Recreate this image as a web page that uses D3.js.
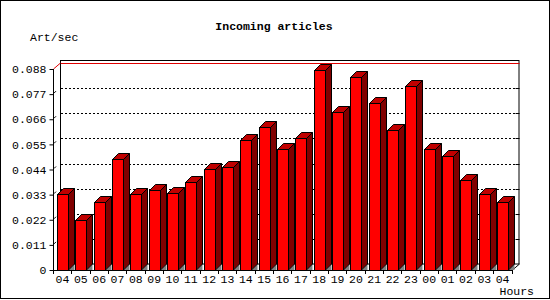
<!DOCTYPE html>
<html>
<head>
<meta charset="utf-8">
<script src="https://cdn.jsdelivr.net/npm/d3@7"></script>
<style>
  body { margin: 0; background: #fff; }
  text { font-family: "Liberation Mono", "DejaVu Sans Mono", monospace; font-size: 11.5px; fill: #000; }
</style>
</head>
<body>
<div class="chart"></div>
<script>
// hours on the x axis (a full day plus one)
var hours = ["04","05","06","07","08","09","10","11","12","13","14","15","16",
             "17","18","19","20","21","22","23","00","01","02","03","04"];
// articles per second
var rates = [0.0331,0.0219,0.0296,0.0486,0.0333,0.0350,0.0337,0.0384,0.0442,0.0449,
             0.0569,0.0625,0.0528,0.0579,0.0876,0.0690,0.0844,0.0730,0.0611,0.0804,
             0.0528,0.0500,0.0394,0.0331,0.0299];
var yTicks = [0,0.011,0.022,0.033,0.044,0.055,0.066,0.077,0.088];

var svgWidth = 550;
var svgHeight = 300;
var depth = 6;        // 3d offset of bars
var frameDepth = 7;   // 3d offset of the back wall

var plotLeft = 54, plotRight = 512.5, plotBottom = 270, plotTop = 69;

var svg = d3.select(".chart").append("svg")
  .attr("width", svgWidth)
  .attr("height", svgHeight);

// outer frame
svg.append("rect")
  .attr("x", 0.5).attr("y", 0.5)
  .attr("width", 549).attr("height", 298)
  .attr("fill", "#fff").attr("stroke", "#000");

var x = d3.scaleBand().domain(d3.range(hours.length)).range([plotLeft, plotRight]);
var y = d3.scaleLinear().domain([0, 0.088]).range([plotBottom, plotTop]);

// back wall
var backTop = 60.5;
svg.append("rect")
  .attr("x", plotLeft + frameDepth - 0.5).attr("y", backTop)
  .attr("width", plotRight - plotLeft).attr("height", plotBottom - depth - backTop)
  .attr("fill", "#fff").attr("stroke", "#000");

// grid lines on the back wall
var inner = yTicks.filter(function(d) { return d > 0 && d < 0.088; });
svg.selectAll(".grid")
  .data(inner)
  .enter().append("line")
  .attr("x1", plotLeft + frameDepth).attr("x2", plotRight + frameDepth)
  .attr("y1", function(d) { return Math.round(y(d) - depth) + 0.5; })
  .attr("y2", function(d) { return Math.round(y(d) - depth) + 0.5; })
  .attr("stroke", "#000").attr("stroke-dasharray", "2,2");

// small inner ticks on the right side of the back wall
svg.selectAll(".rtick")
  .data(inner)
  .enter().append("line")
  .attr("x1", plotRight + frameDepth - 4).attr("x2", plotRight + frameDepth)
  .attr("y1", function(d) { return Math.round(y(d) - depth) + 0.5; })
  .attr("y2", function(d) { return Math.round(y(d) - depth) + 0.5; })
  .attr("stroke", "#000");

// short diagonals from the front axis towards the wall
svg.selectAll(".diag")
  .data(inner)
  .enter().append("line")
  .attr("x1", plotLeft).attr("y1", function(d) { return y(d) - 1; })
  .attr("x2", plotLeft + 2).attr("y2", function(d) { return y(d) - 3; })
  .attr("stroke", "#000");

// red line at the top of the scale
svg.append("line")
  .attr("x1", plotLeft + frameDepth).attr("x2", plotRight + frameDepth)
  .attr("y1", Math.round(y(0.088) - depth) + 0.5).attr("y2", Math.round(y(0.088) - depth) + 0.5)
  .attr("stroke", "#e00000");
svg.append("line")
  .attr("x1", plotLeft - 0.5).attr("y1", y(0.088))
  .attr("x2", plotLeft + frameDepth - 0.5).attr("y2", y(0.088) - depth)
  .attr("stroke", "#e00000");

// floor diagonal at the right end
svg.append("line")
  .attr("x1", plotRight).attr("y1", plotBottom)
  .attr("x2", plotRight + frameDepth).attr("y2", plotBottom - depth)
  .attr("stroke", "#000");

// bars
var barW = 11;
function bx(i) { return Math.round(x(i) + 3) + 0.5; }

var bars = svg.selectAll(".bar").data(rates).enter().append("g").attr("class", "bar");

// shadow triangle on the floor
bars.append("path")
  .attr("d", function(d, i) {
    var x1 = bx(i) + barW;
    return "M" + x1 + "," + plotBottom + "L" + (x1 + depth) + "," + (plotBottom - depth) +
      "L" + (x1 + depth) + "," + plotBottom + "Z";
  })
  .attr("fill", "#808080");

// side face
bars.append("path")
  .attr("d", function(d, i) {
    var x1 = bx(i) + barW, yt = Math.round(y(d)) + 0.5;
    return "M" + x1 + "," + yt + "L" + (x1 + depth) + "," + (yt - depth) +
      "L" + (x1 + depth) + "," + (plotBottom - depth) + "L" + x1 + "," + plotBottom + "Z";
  })
  .attr("fill", "#800000").attr("stroke", "#000");

// top face
bars.append("path")
  .attr("d", function(d, i) {
    var x0 = bx(i), yt = Math.round(y(d)) + 0.5;
    return "M" + x0 + "," + yt + "L" + (x0 + depth) + "," + (yt - depth) +
      "L" + (x0 + barW + depth) + "," + (yt - depth) + "L" + (x0 + barW) + "," + yt + "Z";
  })
  .attr("fill", "#c00000").attr("stroke", "#000");

// front face
bars.append("rect")
  .attr("x", function(d, i) { return bx(i); })
  .attr("y", function(d) { return Math.round(y(d)) + 0.5; })
  .attr("width", barW)
  .attr("height", function(d) { return plotBottom - Math.round(y(d)); })
  .attr("fill", "#ff0000").attr("stroke", "#000");

// y axis
var leftAxis = d3.axisLeft(y)
  .tickValues(yTicks)
  .tickSize(4)
  .tickPadding(3)
  .tickFormat(function(d) { return d === 0 ? "0" : d3.format(".3f")(d); });

var yAxisG = svg.append("g")
  .attr("transform", "translate(" + (plotLeft - 0.5) + ",0)")
  .call(leftAxis);
yAxisG.select(".domain").remove();
yAxisG.selectAll("text").attr("font-family", null).attr("font-size", null);

svg.append("line")
  .attr("x1", plotLeft - 0.5).attr("x2", plotLeft - 0.5)
  .attr("y1", y(0.088)).attr("y2", plotBottom + 0.5)
  .attr("stroke", "#000");

// x axis
var bottomAxis = d3.axisBottom(x)
  .tickSize(0)
  .tickPadding(5)
  .tickFormat(function(i) { return hours[i]; });

var xAxisG = svg.append("g")
  .attr("transform", "translate(-0.7," + plotBottom + ")")
  .call(bottomAxis);
xAxisG.select(".domain").remove();
xAxisG.selectAll("text").attr("font-family", null).attr("font-size", null);

svg.append("line")
  .attr("x1", plotLeft - 0.5).attr("x2", plotRight)
  .attr("y1", plotBottom + 0.5).attr("y2", plotBottom + 0.5)
  .attr("stroke", "#000");

// tick marks at band boundaries
svg.selectAll(".xtick")
  .data(d3.range(hours.length + 1))
  .enter().append("line")
  .attr("x1", function(i) { return Math.round(plotLeft + i * x.step()) - 0.5; })
  .attr("x2", function(i) { return Math.round(plotLeft + i * x.step()) - 0.5; })
  .attr("y1", plotBottom).attr("y2", plotBottom + 4)
  .attr("stroke", "#000");

// titles
svg.append("text")
  .attr("x", 274).attr("y", 30)
  .attr("text-anchor", "middle")
  .attr("font-weight", "bold")
  .text("Incoming articles");

svg.append("text")
  .attr("x", 30).attr("y", 41)
  .text("Art/sec");

svg.append("text")
  .attr("x", 534).attr("y", 295)
  .attr("text-anchor", "end")
  .text("Hours");
</script>
</body>
</html>
